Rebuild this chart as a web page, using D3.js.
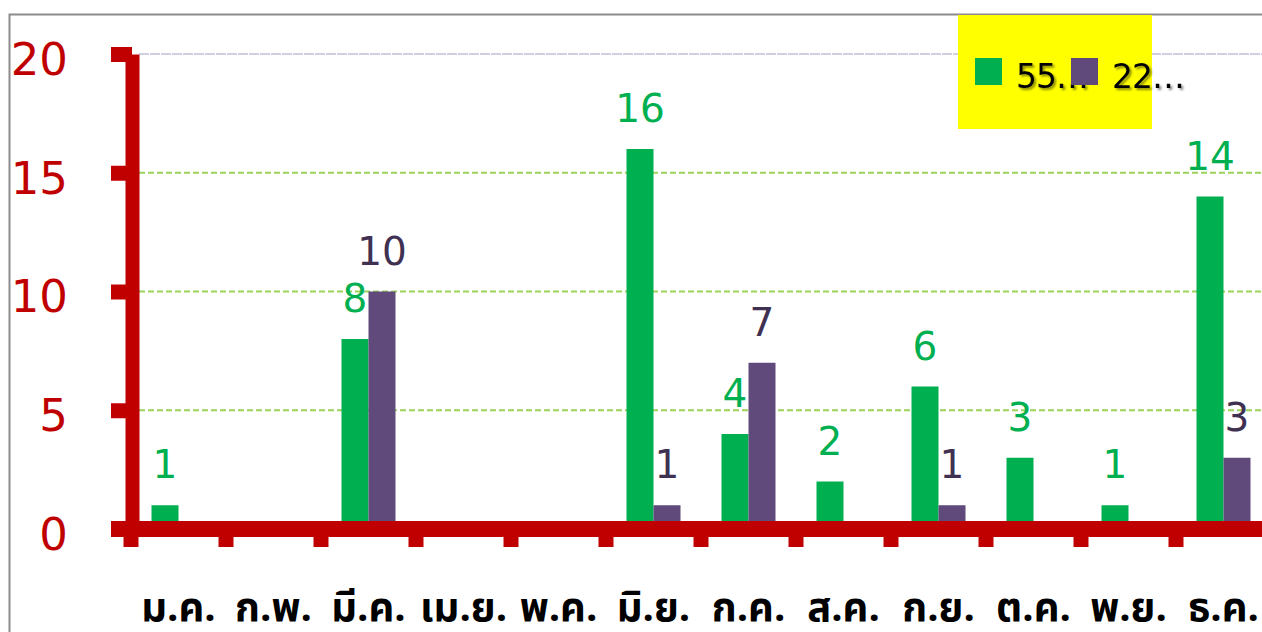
<!DOCTYPE html>
<html>
<head>
<meta charset="utf-8">
<script src="https://cdn.jsdelivr.net/npm/d3@7"></script>
<style>
  html, body { margin: 0; padding: 0; background: #fff; overflow: hidden; }
  svg { display: block; }
</style>
</head>
<body>
<svg id="chart" width="1262" height="632"></svg>
<script>
const months = ["ม.ค.", "ก.พ.", "มี.ค.", "เม.ย.", "พ.ค.", "มิ.ย.", "ก.ค.", "ส.ค.", "ก.ย.", "ต.ค.", "พ.ย.", "ธ.ค."];
const seriesNames = ["55…", "22…"];
const seriesGreen = [1, 0, 8, 0, 0, 16, 4, 2, 6, 3, 1, 14];
const seriesPurple = [0, 0, 10, 0, 0, 1, 7, 0, 1, 0, 0, 3];
const yTicks = [0, 5, 10, 15, 20];

const barColors = ["#00B050", "#604A7B"];
const labelColors = ["#00B050", "#403152"];
const axisRed = "#C00000";

const svg = d3.select("#chart");
const W = 1262, H = 632;

const x = d3.scaleBand().domain(months).range([131, 1271]).paddingInner(0).paddingOuter(0);
const x1 = d3.scaleBand().domain(seriesNames).range([20.5, 74.5]).padding(0);
const y = d3.scaleLinear().domain([0, 20]).range([529, 54]);

const defs = svg.append("defs");
const f = defs.append("filter").attr("id", "shadow").attr("x", "-20%").attr("y", "-20%").attr("width", "150%").attr("height", "160%");
f.append("feDropShadow").attr("dx", 2).attr("dy", 2).attr("stdDeviation", 1.2).attr("flood-color", "#000").attr("flood-opacity", 0.45);

// outer border
svg.append("path").attr("d", `M9.5,${H}V14.5H${W}`).attr("fill", "none").attr("stroke", "#8c8c8c").attr("stroke-width", 2);

// gridlines
svg.append("g").selectAll("line").data(yTicks.filter(d => d > 0)).join("line")
  .attr("x1", 139).attr("x2", W)
  .attr("y1", d => y(d)).attr("y2", d => y(d))
  .attr("stroke", d => d === 20 ? "#CFCFDF" : "#9BD35A")
  .attr("stroke-width", 2)
  .attr("stroke-dasharray", d => d === 20 ? "10,1" : "6,3");

// legend background
const legend = svg.append("g");
legend.append("rect").attr("x", 958).attr("y", 15).attr("width", 194).attr("height", 114).attr("fill", "#FFFF00");

// bars
const data = months.map((m, i) => ({ m, vals: [seriesGreen[i], seriesPurple[i]] }));
const groups = svg.append("g").selectAll("g").data(data).join("g")
  .attr("transform", d => `translate(${x(d.m)},0)`);
groups.selectAll("rect").data(d => d.vals.map((v, k) => ({ v, k }))).join("rect")
  .attr("x", d => x1(seriesNames[d.k]))
  .attr("width", x1.bandwidth())
  .attr("y", d => y(d.v))
  .attr("height", d => y(0) - y(d.v))
  .attr("fill", d => barColors[d.k]);
groups.selectAll("text").data(d => d.vals.map((v, k) => ({ v, k })).filter(e => e.v > 0)).join("text")
  .attr("x", d => x1(seriesNames[d.k]) + x1.bandwidth() / 2)
  .attr("y", d => y(d.v) - 27)
  .attr("text-anchor", "middle")
  .attr("font-family", "DejaVu Sans, sans-serif")
  .attr("font-size", 39)
  .attr("fill", d => labelColors[d.k])
  .text(d => d.v);

// y axis
const yAxis = svg.append("g").attr("transform", "translate(132,0)")
  .call(d3.axisLeft(y).tickValues(yTicks).tickSize(21).tickSizeOuter(0).tickPadding(43));
yAxis.select(".domain").attr("stroke", axisRed).attr("stroke-width", 14);
yAxis.selectAll(".tick line").attr("stroke", axisRed).attr("stroke-width", 15);
yAxis.selectAll(".tick text")
  .attr("fill", axisRed).attr("font-family", "DejaVu Sans, sans-serif").attr("font-size", 45).attr("dy", "0.45em");

// x axis
const xAxis = svg.append("g").attr("transform", `translate(0,${y(0)})`)
  .call(d3.axisBottom(x).tickSize(0).tickPadding(64).tickSizeOuter(0));
xAxis.select(".domain").remove();
xAxis.selectAll(".tick text")
  .attr("fill", "#000").attr("font-family", "Tahoma, 'Noto Sans Thai', 'DejaVu Sans', sans-serif")
  .attr("font-size", 40).attr("font-weight", "bold").attr("dy", "0.71em");
xAxis.insert("line", ":first-child").attr("x1", 111).attr("x2", W).attr("y1", 0).attr("y2", 0)
  .attr("stroke", axisRed).attr("stroke-width", 16);
xAxis.selectAll(".btick").data(months).join("line").attr("class", "btick")
  .attr("x1", d => x(d)).attr("x2", d => x(d)).attr("y1", 0).attr("y2", 18)
  .attr("stroke", axisRed).attr("stroke-width", 15);

// legend items
const li = legend.selectAll("g.item").data(seriesNames).join("g").attr("class", "item")
  .attr("transform", (d, i) => `translate(${975 + i * 96},58)`);
li.append("text").attr("x", 41).attr("y", 30)
  .attr("font-family", "DejaVu Sans, sans-serif").attr("font-size", 33).attr("letter-spacing", -1)
  .attr("fill", "#000").attr("filter", "url(#shadow)").text(d => d);
li.append("rect").attr("width", 27).attr("height", 27).attr("fill", (d, i) => barColors[i]);
</script>
</body>
</html>
